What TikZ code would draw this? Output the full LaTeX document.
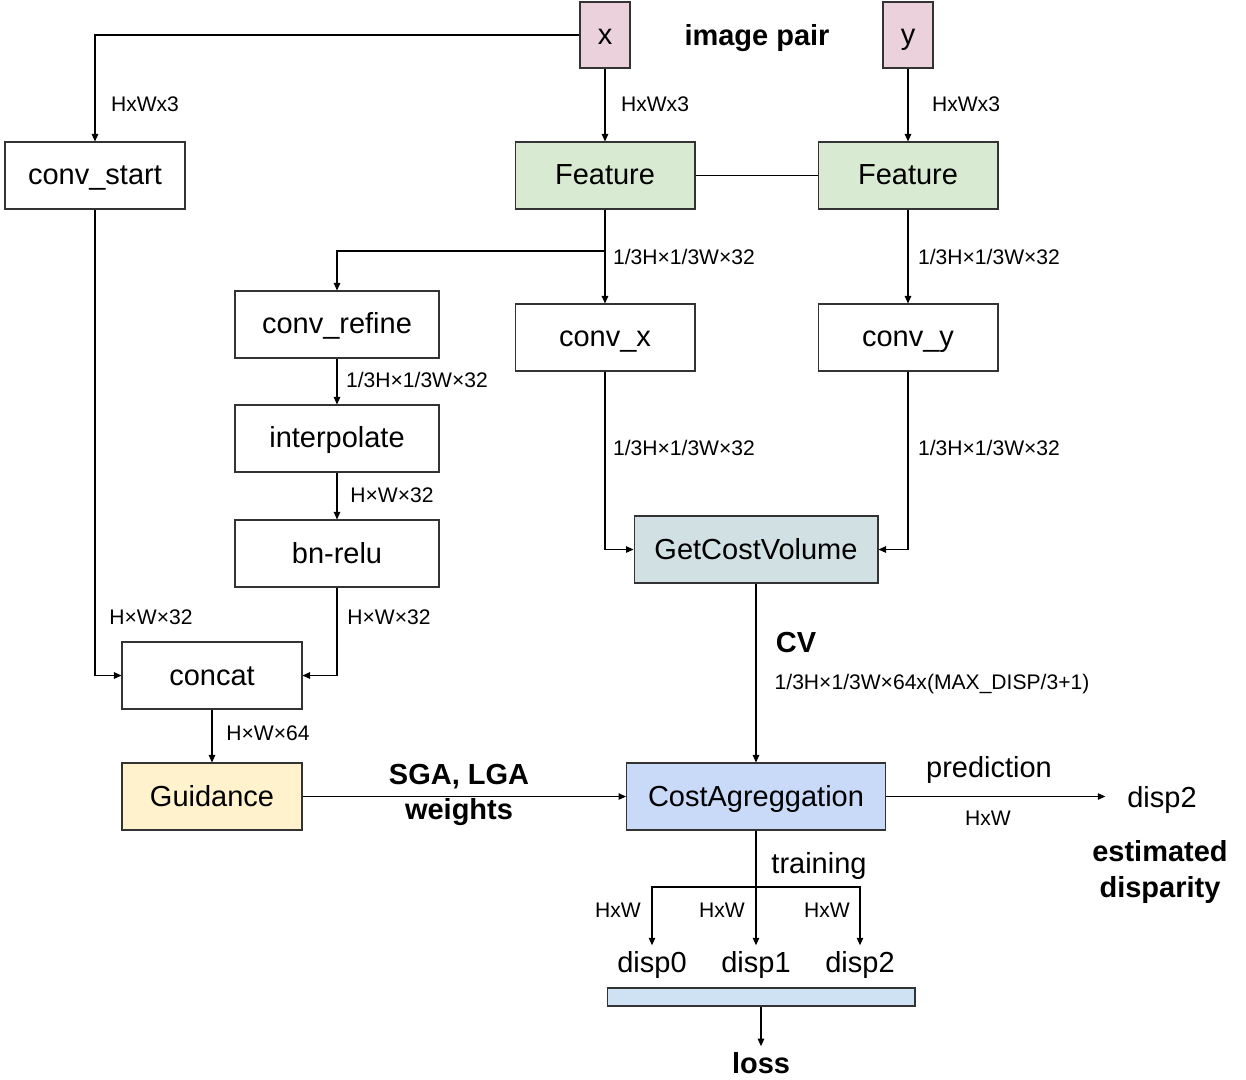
\documentclass[tikz,border=0pt]{standalone}
\usepackage{fontspec}
\setmainfont{Liberation Sans}
\usetikzlibrary{arrows.meta}
\definecolor{pinkbox}{HTML}{EAD1DC}
\definecolor{featgreen}{HTML}{D9EAD3}
\definecolor{cvgray}{HTML}{D0E0E3}
\definecolor{aggblue}{HTML}{C9DAF8}
\definecolor{guideyellow}{HTML}{FFF2CC}
\definecolor{lossblue}{HTML}{CFE2F3}
\begin{document}
\begin{tikzpicture}[x=0.02cm,y=-0.02cm]
        \tikzstyle{every node}=[font=\fontsize{16.5}{20}\selectfont]
        \tikzstyle{block}=[draw=black!80,line width=0.6pt,minimum width=3.6cm,minimum height=1.34cm,inner sep=0pt,text height=14pt,text depth=3.2pt]
        \tikzstyle{wide}=[block,minimum width=4.08cm]
        \tikzstyle{dim}=[font=\fontsize{12}{14}\selectfont]
        \tikzstyle{bold}=[font=\fontsize{16.5}{20}\selectfont\bfseries,align=center]
        \tikzstyle{link}=[line width=0.6pt,-{Triangle[length=1.5mm,width=1.3mm]}]
        \useasboundingbox (0,0) rectangle (1246,1079);

        % inputs and feature extraction
        \node[block,fill=pinkbox,minimum width=1cm,minimum height=1.32cm] (x) at (605,35) {x};
        \node[block,fill=pinkbox,minimum width=1cm,minimum height=1.32cm] (y) at (908,35) {y};
        \node[bold] (pair) at (757,38) {image pair};
        \node[block] (start) at (95,175.5) {conv\_start};
        \node[block,fill=featgreen] (featx) at (605,175.5) {Feature};
        \node[block,fill=featgreen] (featy) at (908,175.5) {Feature};
        \node[wide] (refine) at (337,324.5) {conv\_refine};
        \node[block] (convx) at (605,337.5) {conv\_x};
        \node[block] (convy) at (908,337.5) {conv\_y};
        \node[wide] (interp) at (337,438.5) {interpolate};
        \node[wide] (bnrelu) at (337,553.5) {bn-relu};
        \node[block,fill=cvgray,minimum width=4.88cm] (getcv) at (756,549.5) {GetCostVolume};
        \node[block] (concat) at (212,675.5) {concat};
        \node[block,fill=guideyellow] (guide) at (212,796.5) {Guidance};
        \node[block,fill=aggblue,minimum width=5.18cm] (agg) at (756,796.5) {CostAgreggation};

        % outputs
        \node (dout) at (1162,800) {disp2};
        \node[bold] (est) at (1160,872) {estimated\\disparity};
        \node (d0) at (652,965) {disp0};
        \node (d1) at (756,965) {disp1};
        \node (d2) at (860,965) {disp2};
        \node[draw=black!80,line width=0.6pt,fill=lossblue,minimum width=6.16cm,minimum height=0.36cm,inner sep=0pt] (bar) at (761,997) {};
        \node[bold] (loss) at (761,1063) {loss};

        \coordinate (split) at (605,251);
        \coordinate (fork) at (756,887);

        \draw[link] (x.west) -| (start.north);
        \draw[link] (x) -- (featx);
        \draw[link] (y) -- (featy);
        \draw[line width=0.6pt] (featx) -- (featy);
        \draw[link] (featx) -- (convx);
        \draw[link] (split) -| (refine.north);
        \draw[link] (featy) -- (convy);
        \draw[link] (refine) -- (interp);
        \draw[link] (interp) -- (bnrelu);
        \draw[link] (bnrelu.south) |- (concat.east);
        \draw[link] (start.south) |- (concat.west);
        \draw[link] (convx.south) |- (getcv.west);
        \draw[link] (convy.south) |- (getcv.east);
        \draw[link] (getcv) -- (agg);
        \draw[link] (concat) -- (guide);
        \draw[link] (guide) -- (agg);
        \draw[link,shorten >=9pt] (agg) -- (agg -| dout.west);
        \draw[link] (agg) -- (d1);
        \draw[link] (fork) -| (d0.north);
        \draw[link] (fork) -| (d2.north);
        \draw[link] (bar) -- (loss);

        % labels
        \node[dim] (lx0) at (145,104) {HxWx3};
        \node[dim] (lx1) at (655,104) {HxWx3};
        \node[dim] (ly1) at (966,104) {HxWx3};
        \node[dim] (lfx) at (684,257) {1/3H×1/3W×32};
        \node[dim] (lfy) at (989,257) {1/3H×1/3W×32};
        \node[dim] (lref) at (417,380) {1/3H×1/3W×32};
        \node[dim] (lcx) at (684,448) {1/3H×1/3W×32};
        \node[dim] (lcy) at (989,448) {1/3H×1/3W×32};
        \node[dim] (lint) at (392,495) {H×W×32};
        \node[dim] (lbn) at (389,617) {H×W×32};
        \node[dim] (lst) at (151,617) {H×W×32};
        \node[dim] (lcat) at (268,733) {H×W×64};
        \node[bold] (lcv) at (796,643) {CV};
        \node[dim] (lvol) at (932,684) {1/3H×1/3W×64x(MAX\_DISP/3+1)};
        \node[bold] (lsga) at (459,795) {SGA, LGA\\weights};
        \node (lpred) at (989,770) {prediction};
        \node[dim] (lhw) at (988,818) {HxW};
        \node (ltrain) at (819,866) {training};
        \node[dim] (lh0) at (618,910) {HxW};
        \node[dim] (lh1) at (722,910) {HxW};
        \node[dim] (lh2) at (827,910) {HxW};
\end{tikzpicture}
\end{document}
